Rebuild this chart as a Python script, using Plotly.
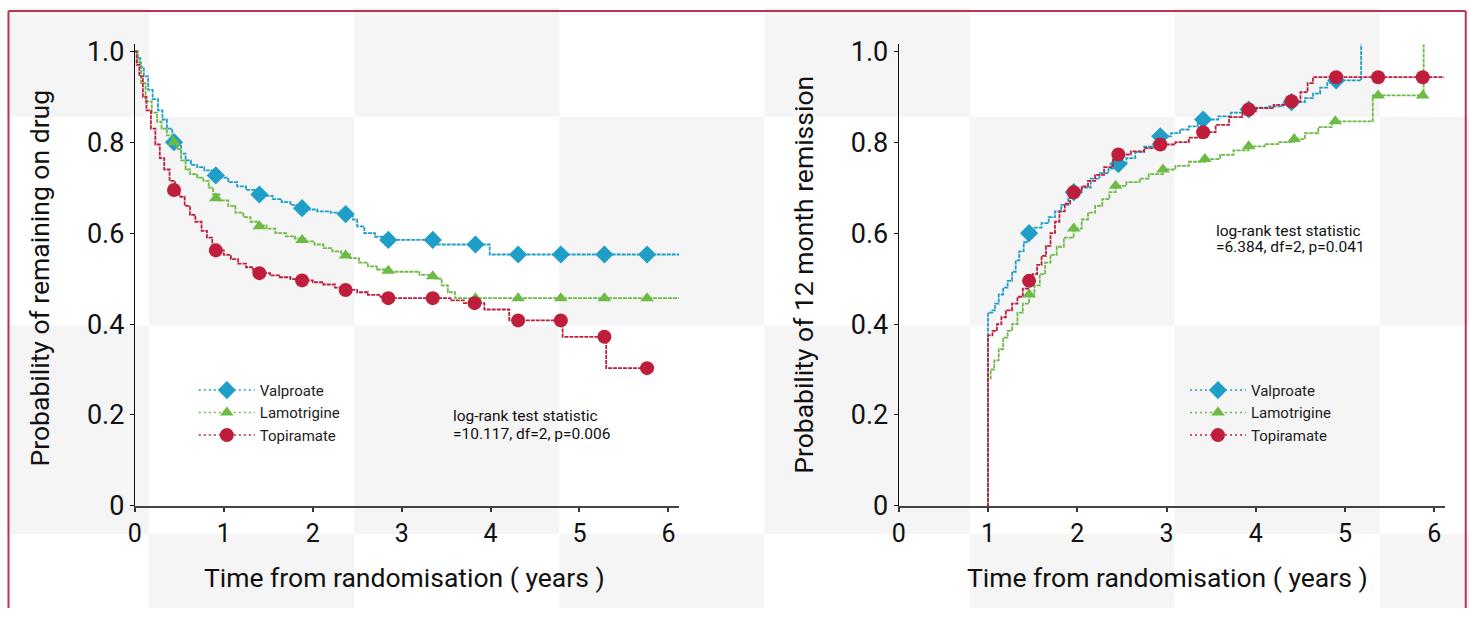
import plotly.graph_objects as go

W, H = 1469, 624

# ---------------- data: left panel (probability of remaining on drug) ----------------
val_L_t = [0, 0.03, 0.06, 0.10, 0.15, 0.20, 0.26, 0.31, 0.36, 0.42, 0.47, 0.52, 0.57, 0.63, 0.70,
           0.78, 0.86, 0.95, 1.05, 1.15, 1.25, 1.35, 1.45, 1.55, 1.65, 1.75, 1.85, 1.95, 2.05, 2.20,
           2.35, 2.45, 2.50, 2.58, 2.70, 2.80, 3.39, 3.99, 6.16]
val_L_p = [1.0, 0.985, 0.965, 0.945, 0.915, 0.895, 0.87, 0.85, 0.83, 0.81, 0.795, 0.775, 0.76, 0.75,
           0.745, 0.738, 0.73, 0.722, 0.712, 0.703, 0.695, 0.688, 0.682, 0.675, 0.668, 0.662, 0.657,
           0.652, 0.648, 0.645, 0.642, 0.63, 0.615, 0.60, 0.592, 0.585, 0.575, 0.553, 0.553]
val_L_mt = [0.44, 0.91, 1.40, 1.88, 2.37, 2.85, 3.35, 3.83, 4.31, 4.79, 5.28, 5.76]
val_L_mp = [0.80, 0.727, 0.685, 0.655, 0.642, 0.585, 0.585, 0.575, 0.553, 0.553, 0.553, 0.553]

lam_L_t = [0, 0.03, 0.07, 0.12, 0.19, 0.25, 0.30, 0.36, 0.42, 0.47, 0.52, 0.57, 0.62, 0.70, 0.77,
           0.83, 0.88, 0.95, 1.05, 1.13, 1.22, 1.30, 1.38, 1.48, 1.58, 1.70, 1.80, 1.92, 2.02, 2.12,
           2.22, 2.32, 2.42, 2.52, 2.62, 2.72, 2.85, 3.20, 3.38, 3.45, 3.52, 3.60, 6.12]
lam_L_p = [1.0, 0.975, 0.93, 0.89, 0.865, 0.845, 0.83, 0.815, 0.80, 0.785, 0.76, 0.74, 0.73, 0.722,
           0.715, 0.70, 0.685, 0.672, 0.66, 0.645, 0.635, 0.625, 0.617, 0.61, 0.60, 0.593, 0.588,
           0.582, 0.575, 0.567, 0.56, 0.553, 0.545, 0.535, 0.527, 0.52, 0.515, 0.508, 0.50, 0.485,
           0.47, 0.457, 0.457]
lam_L_mt = [0.44, 0.91, 1.40, 1.88, 2.37, 2.85, 3.35, 3.83, 4.31, 4.79, 5.28, 5.76]
lam_L_mp = [0.80, 0.677, 0.615, 0.585, 0.551, 0.517, 0.505, 0.457, 0.457, 0.457, 0.457, 0.457]

top_L_t = [0, 0.02, 0.05, 0.09, 0.13, 0.18, 0.23, 0.28, 0.33, 0.39, 0.45, 0.50, 0.56, 0.62, 0.68,
           0.75, 0.81, 0.87, 0.93, 1.00, 1.08, 1.16, 1.25, 1.33, 1.42, 1.52, 1.62, 1.75, 1.88, 2.00,
           2.12, 2.25, 2.37, 2.50, 2.62, 2.75, 2.90, 3.55, 3.70, 3.93, 4.21, 4.81, 5.30, 5.82]
top_L_p = [1.0, 0.97, 0.945, 0.90, 0.87, 0.83, 0.795, 0.765, 0.74, 0.715, 0.695, 0.68, 0.66, 0.64,
           0.625, 0.605, 0.59, 0.575, 0.562, 0.552, 0.543, 0.533, 0.525, 0.518, 0.512, 0.507, 0.503,
           0.499, 0.496, 0.492, 0.487, 0.48, 0.475, 0.47, 0.464, 0.46, 0.457, 0.452, 0.446, 0.432,
           0.408, 0.372, 0.303, 0.303]
top_L_mt = [0.44, 0.91, 1.40, 1.88, 2.37, 2.85, 3.35, 3.82, 4.31, 4.79, 5.28, 5.76]
top_L_mp = [0.695, 0.562, 0.512, 0.496, 0.475, 0.457, 0.457, 0.446, 0.408, 0.408, 0.372, 0.303]

# ---------------- data: right panel (probability of 12 month remission) ----------------
val_R_t = [0.99, 1.0, 1.05, 1.08, 1.12, 1.17, 1.22, 1.27, 1.31, 1.35, 1.40, 1.45, 1.52, 1.60, 1.68,
           1.75, 1.82, 1.90, 1.97, 2.05, 2.15, 2.25, 2.35, 2.45, 2.55, 2.65, 2.75, 2.85, 2.93, 3.05,
           3.15, 3.25, 3.35, 3.45, 3.58, 3.72, 3.85, 4.00, 4.15, 4.30, 4.45, 4.55, 4.64, 4.72, 4.80,
           4.88, 5.18]
val_R_p = [0, 0.425, 0.43, 0.445, 0.465, 0.48, 0.495, 0.515, 0.54, 0.56, 0.58, 0.60, 0.612, 0.622,
           0.635, 0.648, 0.662, 0.677, 0.69, 0.70, 0.72, 0.732, 0.742, 0.752, 0.765, 0.778, 0.79,
           0.80, 0.813, 0.82, 0.828, 0.835, 0.843, 0.85, 0.857, 0.865, 0.872, 0.876, 0.879, 0.883,
           0.888, 0.897, 0.907, 0.92, 0.93, 0.936, 1.03]
val_R_mt = [1.46, 1.96, 2.46, 2.93, 3.41, 3.92, 4.40, 4.90]
val_R_mp = [0.60, 0.69, 0.752, 0.813, 0.85, 0.872, 0.888, 0.936]

lam_R_t = [0.99, 1.0, 1.03, 1.07, 1.12, 1.17, 1.22, 1.27, 1.33, 1.39, 1.46, 1.52, 1.58, 1.64, 1.70,
           1.77, 1.85, 1.96, 2.05, 2.12, 2.20, 2.28, 2.36, 2.43, 2.55, 2.70, 2.80, 2.96, 3.10, 3.25,
           3.43, 3.60, 3.75, 3.92, 4.10, 4.25, 4.43, 4.55, 4.70, 4.85, 5.31, 5.88]
lam_R_p = [0, 0.28, 0.30, 0.32, 0.345, 0.37, 0.385, 0.40, 0.425, 0.445, 0.465, 0.485, 0.51, 0.535,
           0.552, 0.57, 0.59, 0.61, 0.63, 0.645, 0.66, 0.675, 0.69, 0.704, 0.712, 0.72, 0.73, 0.74,
           0.748, 0.757, 0.763, 0.772, 0.782, 0.791, 0.796, 0.80, 0.807, 0.82, 0.833, 0.846, 0.903,
           1.03]
lam_R_mt = [1.46, 1.96, 2.43, 2.96, 3.43, 3.92, 4.43, 4.89, 5.37, 5.87]
lam_R_mp = [0.465, 0.61, 0.704, 0.74, 0.763, 0.791, 0.807, 0.846, 0.903, 0.903]

top_R_t = [0.99, 1.0, 1.05, 1.10, 1.15, 1.20, 1.27, 1.33, 1.39, 1.45, 1.50, 1.55, 1.60, 1.65, 1.70,
           1.75, 1.80, 1.86, 1.92, 1.98, 2.05, 2.12, 2.20, 2.30, 2.40, 2.46, 2.60, 2.75, 2.93, 3.10,
           3.25, 3.41, 3.55, 3.70, 3.85, 4.00, 4.20, 4.40, 4.50, 4.58, 4.64, 6.11]
top_R_p = [0, 0.375, 0.385, 0.40, 0.415, 0.43, 0.445, 0.46, 0.478, 0.495, 0.51, 0.53, 0.55, 0.572,
           0.60, 0.625, 0.648, 0.665, 0.68, 0.692, 0.703, 0.715, 0.728, 0.745, 0.762, 0.773, 0.78,
           0.787, 0.795, 0.80, 0.81, 0.822, 0.838, 0.855, 0.868, 0.875, 0.882, 0.89, 0.91, 0.93,
           0.943, 0.943]
top_R_mt = [1.46, 1.96, 2.46, 2.93, 3.41, 3.92, 4.40, 4.90, 5.37, 5.87]
top_R_mp = [0.495, 0.69, 0.773, 0.795, 0.822, 0.872, 0.89, 0.943, 0.943, 0.943]

series_names = ["Valproate", "Lamotrigine", "Topiramate"]
x_ticks = [0, 1, 2, 3, 4, 5, 6]
y_ticks = [0, 0.2, 0.4, 0.6, 0.8, 1.0]
y_ticklabels = ["0", "0.2", "0.4", "0.6", "0.8", "1.0"]
stat_left = ["log-rank test statistic", "=10.117, df=2, p=0.006"]
stat_right = ["log-rank test statistic", "=6.384, df=2, p=0.041"]
xtitle = "Time from randomisation ( years )"
ytitle_left = "Probability of remaining on drug"
ytitle_right = "Probability of 12 month remission"

# ---------------- styling ----------------
colors = {"Valproate": "#1f9fc8", "Lamotrigine": "#6dbb45", "Topiramate": "#be1e3c"}
symbols = {"Valproate": "diamond", "Lamotrigine": "triangle-up", "Topiramate": "circle"}
msizes = {"Valproate": 14, "Lamotrigine": 12, "Topiramate": 14}
FONT = "Roboto"

left_data = {
    "Valproate": (val_L_t, val_L_p, val_L_mt, val_L_mp),
    "Lamotrigine": (lam_L_t, lam_L_p, lam_L_mt, lam_L_mp),
    "Topiramate": (top_L_t, top_L_p, top_L_mt, top_L_mp),
}
right_data = {
    "Valproate": (val_R_t, val_R_p, val_R_mt, val_R_mp),
    "Lamotrigine": (lam_R_t, lam_R_p, lam_R_mt, lam_R_mp),
    "Topiramate": (top_R_t, top_R_p, top_R_mt, top_R_mp),
}

fig = go.Figure()

def add_panel(data, xa, ya, legend):
    for name in series_names:
        t, p, mt, mp = data[name]
        c = colors[name]
        fig.add_trace(go.Scatter(x=t, y=p, mode="lines",
                                 line=dict(color=c, width=1.8, shape="hv", dash="4px,1px"),
                                 xaxis=xa, yaxis=ya, showlegend=False, hoverinfo="skip"))
        fig.add_trace(go.Scatter(x=mt, y=mp, mode="markers",
                                 marker=dict(symbol=symbols[name], size=msizes[name], color=c),
                                 xaxis=xa, yaxis=ya, showlegend=False))
        fig.add_trace(go.Scatter(x=[None], y=[None], mode="lines+markers", name=name,
                                 line=dict(color=c, width=1.5, dash="2px,3px"),
                                 marker=dict(symbol=symbols[name], size=msizes[name], color=c),
                                 xaxis=xa, yaxis=ya, legend=legend))

add_panel(left_data, "x", "y", "legend")
add_panel(right_data, "x2", "y2", "legend2")

# The viewer shows the page slightly offset/scaled; map target screen pixels -> figure pixels.
OX, SX, OY, SY = 6.0, 0.9961, 4.0, 0.9724

def fx(s):
    return (s - OX) / SX

def fy(s):
    return (s - OY) / SY

def px_x(s):  # screen x pixel -> paper fraction
    return min(max(fx(s) / W, 0.0), 1.0)

def px_y(s):  # screen y pixel -> paper fraction
    return min(max(1 - fy(s) / H, 0.0), 1.0)

YR = [0, 1.015]
XR = [0, 6.12]
y_bot, y_top = 507.5, 507.5 - 459.7 * YR[1]
ydom = [px_y(y_bot), px_y(y_top)]
xdomL = [px_x(134.0), px_x(134.0 + 89.0 * XR[1])]
xdomR = [px_x(898.5), px_x(898.5 + 89.35 * XR[1])]

xax = dict(range=XR, tickvals=x_ticks, showgrid=False, zeroline=False, showline=True,
           linecolor="#444", linewidth=2, ticks="outside", ticklen=4, tickwidth=1.5, tickcolor="#333",
           tickfont=dict(family=FONT, size=25, color="#111"))
yax = dict(range=YR, tickvals=y_ticks, ticktext=y_ticklabels, showgrid=False, zeroline=False,
           showline=True, linecolor="#111", linewidth=1.2, ticks="outside", ticklen=4, tickwidth=1.2,
           tickcolor="#111", tickfont=dict(family=FONT, size=27, color="#111"))

shapes = []
# checkerboard background
col_edges = [-57.1, 148.2, 353.5, 558.8, 764.1, 969.4, 1174.7, 1380.0, 1585.3]
row_edges = [-97.0, 114.0, 325.0, 536.0, 747.0]
for r in range(len(row_edges) - 1):
    for c in range(len(col_edges) - 1):
        if (r + c) % 2 == 0:
            xl, xr = px_x(col_edges[c]), px_x(col_edges[c + 1])
            yb, yt = px_y(row_edges[r + 1]), px_y(row_edges[r])
            if xr > xl and yt > yb:
                shapes.append(dict(type="rect", xref="paper", yref="paper",
                                   x0=xl, x1=xr, y0=yb, y1=yt,
                                   fillcolor="#f5f5f5", line=dict(width=0), layer="below"))
# frame (left, top, right edges)
frame = dict(color="#b73552", width=2)
for (xa, ya, xb, yb) in [(7.5, 7, 7.5, 640), (7.5, 7, 1466, 7), (1466, 7, 1466, 640)]:
    shapes.append(dict(type="line", xref="paper", yref="paper", x0=px_x(xa), y0=px_y(ya),
                       x1=px_x(xb), y1=px_y(yb), line=frame, layer="below"))

ann = []
def text_ann(x, y, text, size, xanchor="center", angle=0):
    ann.append(dict(xref="paper", yref="paper", x=px_x(x), y=px_y(y), text=text, showarrow=False,
                    xanchor=xanchor, yanchor="middle", textangle=angle,
                    font=dict(family=FONT, size=size, color="#111")))

text_ann(404, 580, xtitle, 26.5)
text_ann(1167.5, 580, xtitle, 26.5)
text_ann(38, 276.5, ytitle_left, 26.5, angle=-90)
text_ann(803, 273.5, ytitle_right, 26.5, angle=-90)
text_ann(450.5, 416.5, stat_left[0], 15.5, xanchor="left")
text_ann(450.5, 434.5, stat_left[1], 15.5, xanchor="left")
text_ann(1214, 229.5, stat_right[0], 15.5, xanchor="left")
text_ann(1214, 245.5, stat_right[1], 15.5, xanchor="left")

legend_style = dict(bgcolor="rgba(0,0,0,0)", font=dict(family=FONT, size=15, color="#222"),
                    xanchor="left", yanchor="top", tracegroupgap=0, itemwidth=56)

fig.update_layout(
    width=W, height=H, margin=dict(l=0, r=0, t=0, b=0),
    paper_bgcolor="white", plot_bgcolor="rgba(0,0,0,0)",
    xaxis=dict(domain=xdomL, anchor="y", **xax),
    yaxis=dict(domain=ydom, anchor="x", **yax),
    xaxis2=dict(domain=xdomR, anchor="y2", **xax),
    yaxis2=dict(domain=ydom, anchor="x2", **yax),
    legend=dict(x=px_x(193), y=px_y(374), **legend_style),
    legend2=dict(x=px_x(1185), y=px_y(374), **legend_style),
    shapes=shapes, annotations=ann, showlegend=True,
)

fig.write_html(
    "out.html", config={"displayModeBar": False},
    post_script=(
        "document.body.style.margin='0';document.body.style.padding='0';"
        "document.body.style.overflow='hidden';"
    ),
)
